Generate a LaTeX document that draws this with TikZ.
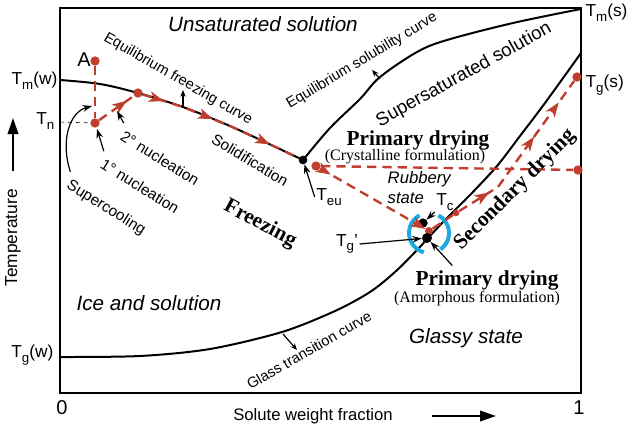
\documentclass[tikz,border=0pt]{standalone}
\usepackage{fontspec}
\setmainfont{Liberation Sans}
\newfontfamily\dryfont{Liberation Serif}
\usetikzlibrary{arrows.meta, decorations.markings}

\definecolor{dryred}{RGB}{192,62,45}
\definecolor{ringblue}{RGB}{30,170,225}
\newcommand{\setfs}[1]{\fontsize{#1}{#1}\selectfont}
\newcommand{\lsub}[1]{\raisebox{-0.5ex}{\fontsize{10}{10}\selectfont #1}}

\begin{document}
\begin{tikzpicture}[x=0.75pt, y=-0.75pt,
    bcurve/.style={line width=1.5pt},
    route/.style={dryred, line width=1.8pt, dash pattern=on 7pt off 4.5pt},
    rdot/.style={circle, fill=dryred, inner sep=0pt, minimum size=7pt},
    bdot/.style={circle, fill=black, inner sep=0pt, minimum size=6.5pt},
    pointer/.style={-{Stealth[length=7pt,width=5pt]}, line width=0.9pt},
    smallarrow/.style={-{Stealth[length=5pt,width=4pt]}, line width=0.9pt},
    axisarrow/.style={-{Triangle[length=12pt,width=8pt]}, line width=1.2pt},
    redtip at/.style={postaction={decorate, decoration={markings,
        mark=at position #1 with {\arrow{Stealth[length=11pt,width=8pt,inset=3pt]}}}}},
    ring/.style={ringblue, line width=3pt},
    region/.style={font=\setfs{15.5}\itshape},
    tlabel/.style={font=\setfs{13}, inner sep=1pt},
    curvelabel/.style={font=\setfs{11}},
    steplabel/.style={font=\setfs{11.5}},
    stage/.style={font=\dryfont\bfseries\setfs{16}},
    note/.style={font=\dryfont\setfs{12}}]
    \useasboundingbox (0,0) rectangle (631,429);

    % frame and phase curves
    \draw[line width=1.8pt] (60,8) rectangle (581,393);
    \draw[bcurve] plot[smooth, tension=0.55] coordinates {(60,80) (100,84) (138,93) (183,107) (230,126) (267,143) (303,160)};
    \draw[bcurve] plot[smooth, tension=0.55] coordinates {(303,160) (330,128) (360,99) (380,77) (417,52) (447,40) (513,23) (581,9)};
    \draw[bcurve] plot[smooth, tension=0.5] coordinates {(60,357) (140,356) (210,349) (282,332) (335,311) (370,292) (395,272) (417,250) (443,222) (470,195) (497,166) (520,136) (545,103) (581,53)};

    % ring round the collapse point
    \coordinate (ring) at (429,233);
    \draw[ring] ([shift={(118:15pt)}]ring) arc[start angle=118, end angle=255, radius=15pt];
    \draw[ring] ([shift={(-55:15pt)}]ring) arc[start angle=-55, end angle=62, radius=15pt];

    % points
    \node[rdot] (a) at (95,61) {};
    \node[rdot] (n1) at (95,123) {};
    \node[rdot] (n2) at (138,93) {};
    \node[bdot] (teu) at (303,160) {};
    \node[rdot] (eu) at (316,166) {};
    \node[rdot] (rend) at (578,170) {};
    \node[rdot, minimum size=6pt] (tr) at (429,231) {};
    \node[bdot, minimum size=7pt] (tc) at (423,223) {};
    \node[bdot, minimum size=7.5pt] (tg) at (427,238) {};
    \node[rdot, minimum size=5pt] (s1) at (456,213) {};
    \coordinate (s2) at (498,187);
    \node[rdot] (tgs) at (577,77) {};
    \coordinate (f1) at (183,107);
    \coordinate (f2) at (230,126);
    \coordinate (f3) at (267,143);

    % process path
    \draw[route] (a) -- (n1);
    \draw[route, redtip at=0.8] (n1) -- (n2);
    \draw[route, redtip at=0.13, redtip at=0.44, redtip at=0.81] (n2) -- (f1) -- (f2) -- (f3) -- (teu);
    \draw[route] (eu) -- (rend);
    \draw[route, redtip at=0.1, -{Stealth[length=11pt,width=8pt,inset=3pt]}] (eu) -- (tr);
    \draw[route, redtip at=0.3, redtip at=0.66, redtip at=0.87] (tr) -- (s1) -- (s2) -- (tgs);

    % axis values
    \node[tlabel, anchor=east] (lbltmw) at (59,81) {T\lsub{m}(w)};
    \node[tlabel, anchor=east] (lbltn) at (56,121) {T\lsub{n}};
    \node[tlabel, anchor=east] (lbltgw) at (55,355) {T\lsub{g}(w)};
    \node[tlabel, anchor=west] (lbltms) at (584,13) {T\lsub{m}(s)};
    \node[tlabel, anchor=west] (lbltgs) at (584,85) {T\lsub{g}(s)};
    \node[tlabel] (lblteu) at (329,197) {T\lsub{eu}};
    \node[tlabel] (lbltc) at (445,202) {T\lsub{c}};
    \node[tlabel] (lbltg) at (347,244) {T\lsub{g}'};
    \node[font=\setfs{15}] (lbla) at (84,60) {A};
    \coordinate (tnframe) at (60,122);
    \draw[dashed, thin] (tnframe) -- (n1);

    % regions
    \node[region] (unsat) at (263,24) {Unsaturated solution};
    \node[region] (ice) at (149,303) {Ice and solution};
    \node[region] (glassy) at (466,338) {Glassy state};
    \node[font=\setfs{14}, rotate=29] (supersat) at (464,75) {Supersaturated solution};
    \node[font=\fontsize{12.5}{15}\selectfont\itshape, align=left, anchor=west] (rubbery) at (383,188) {Rubbery\\state};

    % curve names
    \node[curvelabel, rotate=-30] (eqfreeze) at (178,79) {Equilibrium freezing curve};
    \node[curvelabel, rotate=31] (eqsol) at (362,61) {Equilibrium solubility curve};
    \node[curvelabel, rotate=30] (glasscurve) at (309,350) {Glass transition curve};
    \coordinate (fcfoot) at (183,107); \coordinate (fchead) at (183,90);
    \coordinate (scfoot) at (380,79); \coordinate (schead) at (372,70);
    \coordinate (gcfoot) at (283,334); \coordinate (gchead) at (297,350);
    \draw[smallarrow] (fcfoot) -- (fchead);
    \draw[smallarrow] (scfoot) -- (schead);
    \draw[smallarrow] (gcfoot) -- (gchead);

    % freezing steps
    \node[steplabel, rotate=-31] (solid) at (250,160) {Solidification};
    \node[steplabel, rotate=-32] (nuc2) at (160,158) {2° nucleation};
    \node[steplabel, rotate=-32] (nuc1) at (140,186) {1° nucleation};
    \node[steplabel, rotate=-32] (supercool) at (106,208) {Supercooling};
    \coordinate (nuc2tip) at (117,111);
    \coordinate (nuc1tip) at (97,129);
    \coordinate (sctip) at (92,106);
    \draw[pointer] (nuc2.north west) -- (nuc2tip);
    \draw[pointer] (nuc1.north west) -- (nuc1tip);
    \draw[pointer] (supercool.north west) .. controls (60,140) and (70,112) .. (sctip);

    % stages
    \node[stage, rotate=-28] (freezing) at (260,224) {Freezing};
    \node[stage] (pdcryst) at (418,140) {Primary drying};
    \node[note] (crystal) at (405,157) {(Crystalline formulation)};
    \node[stage, rotate=45] (secdry) at (515,190) {Secondary drying};
    \node[stage] (pdamorph) at (487,280) {Primary drying};
    \node[note] (amorph) at (477,299) {(Amorphous formulation)};

    \draw[pointer] (lblteu.west) -- (teu);
    \draw[pointer] (lbltc.south west) -- (tc);
    \draw[pointer] (lbltg.east) -- (tg);
    \draw[pointer] ([xshift=-26pt]pdamorph.north) -- (tg);

    % axes
    \node[font=\setfs{13}, rotate=90] (temp) at (13,238) {Temperature};
    \node[font=\setfs{12.5}] (solute) at (313,416) {Solute weight fraction};
    \node[font=\setfs{15}] (zero) at (62,408) {0};
    \node[font=\setfs{15}] (one) at (579,408) {1};
    \coordinate (ttip) at (13,118);
    \coordinate (xtip) at (496,416);
    \draw[axisarrow] ([yshift=10pt]temp.east) -- (ttip);
    \draw[axisarrow] ([xshift=26pt]solute.east) -- (xtip);
\end{tikzpicture}
\end{document}
